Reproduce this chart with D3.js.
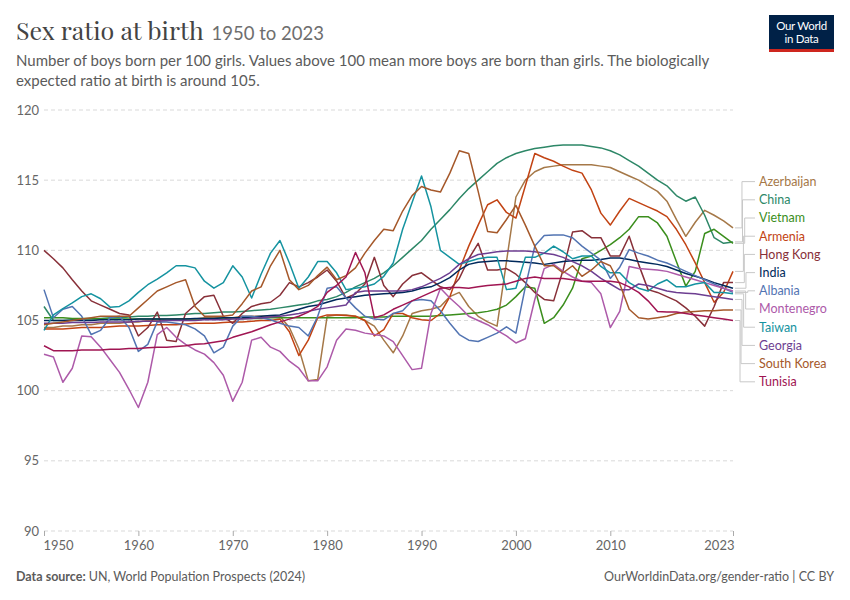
<!DOCTYPE html>
<html>
<head>
<meta charset="utf-8">
<script src="https://cdn.jsdelivr.net/npm/d3@7"></script>
<style>
  body { margin: 0; background: #fff; }
  svg { display: block; font-family: Lato, 'Noto Sans', sans-serif; }
</style>
</head>
<body>
<div id="chart"></div>
<script>
// Sex ratio at birth, boys per 100 girls, one value per year 1950..2023
const firstYear = 1950
const lastYear = 2023
const xTicks = [1950, 1960, 1970, 1980, 1990, 2000, 2010, 2023]
const yTicks = [90, 95, 100, 105, 110, 115, 120]

const countries = ['Azerbaijan', 'China', 'Vietnam', 'Armenia', 'Hong Kong', 'India', 'Albania', 'Montenegro', 'Taiwan', 'Georgia', 'South Korea', 'Tunisia']

const azerbaijan = [
  104.5, 104.5, 104.6, 104.6, 104.7, 104.7, 104.8, 104.8, 104.8, 104.9,
  104.9, 105.0, 105.0, 105.0, 105.1, 105.1, 105.1, 105.2, 105.2, 105.2,
  105.2, 105.3, 105.3, 105.3, 105.3, 105.3, 104.5, 103.0, 100.7, 100.8,
  105.3, 105.4, 105.4, 105.3, 105.0, 104.6, 103.6, 102.7, 103.9, 105.5,
  105.7, 105.8, 106.0, 106.7, 107.0, 106.0, 105.3, 104.9, 104.6, 109.2,
  113.8, 115.0, 115.6, 115.9, 116.0, 116.1, 116.1, 116.1, 116.1, 116.0,
  115.9, 115.6, 115.3, 115.0, 114.6, 114.2, 113.5, 112.2, 111.0, 112.0,
  112.85, 112.5, 112.1, 111.6]
const china = [
  106.0, 105.0, 105.0, 105.05, 105.1, 105.1, 105.15, 105.2, 105.2, 105.25,
  105.3, 105.3, 105.35, 105.35, 105.4, 105.45, 105.5, 105.5, 105.55, 105.6,
  105.6, 105.65, 105.7, 105.75, 105.8, 105.9, 106.0, 106.1, 106.2, 106.4,
  106.5, 106.7, 107.0, 107.4, 107.7, 108.0, 108.4, 108.9, 109.5, 110.1,
  110.7, 111.5, 112.2, 112.9, 113.7, 114.4, 115.0, 115.6, 116.2, 116.6,
  116.9, 117.1, 117.25, 117.35, 117.45, 117.5, 117.5, 117.5, 117.4, 117.3,
  117.1, 116.8, 116.4, 116.0, 115.5, 115.0, 114.6, 113.9, 113.5, 113.8,
  112.5, 110.9, 110.5, 110.6]
const vietnam = [
  105.2, 105.2, 105.2, 105.15, 105.15, 105.15, 105.1, 105.1, 105.1, 105.1,
  105.1, 105.1, 105.1, 105.1, 105.1, 105.1, 105.1, 105.1, 105.1, 105.1,
  105.15, 105.15, 105.15, 105.15, 105.2, 105.2, 105.2, 105.2, 105.2, 105.2,
  105.2, 105.2, 105.2, 105.2, 105.25, 105.25, 105.25, 105.3, 105.3, 105.3,
  105.3, 105.3, 105.35, 105.4, 105.45, 105.5, 105.55, 105.65, 105.8, 106.1,
  106.7, 107.4, 107.3, 104.8, 105.2, 106.1, 107.3, 109.4, 109.6, 110.0,
  110.4, 110.9, 111.5, 112.4, 112.4, 111.95, 111.0, 109.2, 107.45, 108.5,
  111.2, 111.5, 111.0, 110.5]
const armenia = [
  104.4, 104.4, 104.4, 104.45, 104.5, 104.5, 104.5, 104.55, 104.6, 104.6,
  104.6, 104.65, 104.7, 104.7, 104.7, 104.75, 104.8, 104.8, 104.8, 104.85,
  104.9, 104.9, 104.95, 105.0, 105.0, 105.1, 104.2, 102.5, 103.6, 105.2,
  105.4, 105.4, 105.35, 105.3, 105.0, 103.9, 104.35, 105.5, 105.5, 105.2,
  105.05, 105.0, 105.5, 106.7, 108.6, 110.3, 111.8, 113.25, 113.6, 112.7,
  112.3, 114.6, 116.9, 116.6, 116.35, 116.0, 115.7, 115.5, 114.3, 112.65,
  111.8, 112.8, 113.7, 113.4, 113.1, 112.8, 112.4, 111.5, 110.4, 109.1,
  107.7, 106.3, 107.0, 108.5]
const hongKong = [
  110.0, 109.4, 108.75, 107.9, 107.1, 106.4, 106.1, 105.8, 105.5, 105.4,
  103.9, 104.5, 105.6, 103.6, 103.5, 105.5, 106.1, 106.7, 106.8, 105.3,
  104.8, 105.5, 106.0, 106.2, 106.3, 106.8, 107.7, 107.4, 107.7, 108.1,
  108.6, 107.8, 106.6, 106.9, 107.6, 109.5, 107.5, 106.7, 107.6, 108.2,
  108.4, 107.9, 107.4, 107.2, 108.0, 109.4, 110.5, 108.6, 108.6, 108.7,
  108.3, 107.7, 107.0, 106.5, 106.4, 108.6, 111.3, 111.4, 110.9, 110.9,
  109.6, 109.6, 111.0, 109.0, 107.2, 107.0, 106.7, 106.4, 105.9, 105.3,
  104.6, 106.0, 107.7, 107.7]
const india = [
  105.0, 105.0, 105.0, 105.0, 105.0, 105.0, 105.05, 105.05, 105.05, 105.05,
  105.1, 105.1, 105.1, 105.1, 105.1, 105.1, 105.15, 105.15, 105.15, 105.2,
  105.2, 105.2, 105.25, 105.3, 105.35, 105.4, 105.6, 105.8, 106.0, 106.1,
  106.3, 106.5, 106.6, 106.7, 106.8, 106.85, 106.9, 106.95, 107.0, 107.1,
  107.3, 107.4, 107.7, 108.05, 108.6, 109.0, 109.15, 109.2, 109.25, 109.25,
  109.2, 109.15, 109.1, 109.0, 109.1, 109.2, 109.25, 109.3, 109.3, 109.35,
  109.45, 109.45, 109.35, 109.2, 109.1, 109.0, 108.85, 108.6, 108.35, 108.15,
  107.95, 107.7, 107.5, 107.3]
const albania = [
  107.2, 105.2, 105.8, 106.0, 105.3, 104.0, 104.3, 105.2, 105.3, 104.5,
  102.8, 103.3, 104.9, 104.9, 104.8, 104.7, 104.4, 103.9, 102.7, 103.1,
  104.6, 105.3, 105.3, 105.2, 105.05, 104.8, 104.6, 104.5, 103.9, 105.3,
  107.3, 107.4, 106.6, 105.9, 105.3, 105.1, 105.05, 105.5, 105.7, 106.4,
  106.5, 106.4, 105.7, 104.8, 104.0, 103.6, 103.5, 103.8, 104.1, 104.55,
  104.1, 107.4, 110.3, 111.05, 111.1, 111.1, 110.9, 110.3, 109.8, 109.3,
  108.0, 108.8, 110.05, 109.8, 109.6, 109.3, 109.1, 108.8, 108.5, 108.2,
  107.9, 107.6, 107.3, 107.0]
const montenegro = [
  102.6, 102.4, 100.6, 101.6, 103.9, 103.85, 103.1, 102.2, 101.3, 100.1,
  98.8, 100.6, 104.0, 104.5, 103.8, 103.3, 102.9, 102.6, 102.0, 101.1,
  99.25, 100.6, 103.6, 103.8, 103.1, 102.8, 102.1, 101.6, 100.7, 100.7,
  101.7, 103.6, 104.4, 104.3, 104.1, 104.0, 103.9, 103.5, 102.5, 101.5,
  101.6, 105.5, 107.3, 106.6, 106.0, 105.3, 105.0, 104.7, 104.3, 103.9,
  103.4, 103.7, 106.5, 108.7, 109.0, 108.5, 108.1, 107.8, 107.7, 106.9,
  104.5, 105.65, 108.85, 108.7, 108.65, 108.6, 108.5, 108.3, 108.1, 107.9,
  107.7, 107.5, 107.3, 107.1]
const taiwan = [
  104.3, 105.4, 105.85, 106.25, 106.7, 106.9, 106.55, 105.95, 106.0, 106.4,
  107.0, 107.55, 107.95, 108.4, 108.9, 108.9, 108.75, 107.8, 107.3, 107.7,
  108.9, 108.1, 106.6, 108.3, 109.8, 110.7, 109.1, 107.3, 108.1, 109.2,
  109.2, 108.4, 107.2, 107.3, 107.4, 107.6, 108.15, 109.1, 111.5, 113.4,
  115.3, 113.1, 110.0, 109.5, 109.0, 109.2, 109.4, 109.5, 109.5, 107.2,
  107.3, 109.5, 109.5, 109.8, 110.3, 109.9, 109.4, 109.6, 109.6, 108.85,
  108.4, 108.4, 107.7, 107.3, 107.1, 107.6, 107.9, 107.4, 107.4, 107.6,
  107.7, 107.0, 107.0, 106.9]
const georgia = [
  104.8, 104.8, 104.8, 104.85, 104.85, 104.85, 104.9, 104.9, 104.9, 104.9,
  104.95, 104.95, 104.95, 105.0, 105.0, 105.0, 105.0, 105.05, 105.05, 105.05,
  105.1, 105.1, 105.15, 105.2, 105.25, 105.3, 105.4, 105.5, 105.65, 105.8,
  105.9, 106.0, 106.1, 107.0, 107.1, 107.1, 107.1, 107.1, 107.1, 107.2,
  107.4, 107.7, 108.0, 108.4, 109.0, 109.4, 109.7, 109.8, 109.9, 109.95,
  109.95, 109.95, 109.9, 109.8, 109.7, 109.5, 109.2, 108.9, 108.5, 108.0,
  107.6, 107.2, 107.2, 107.6, 107.5, 107.3, 107.1, 107.0, 106.95, 106.9,
  106.8, 106.7, 106.6, 106.5]
const southKorea = [
  104.7, 104.8, 104.9, 105.0, 105.1, 105.2, 105.3, 105.3, 105.3, 105.3,
  105.9, 106.5, 107.1, 107.4, 107.7, 107.9, 106.0, 105.3, 105.3, 105.3,
  105.4, 106.2, 107.1, 107.4, 108.9, 110.0, 107.9, 107.2, 107.5, 108.2,
  108.8, 107.9, 108.2, 108.75, 109.8, 110.7, 111.5, 111.4, 112.8, 113.9,
  114.55, 114.3, 114.15, 115.5, 117.1, 116.9, 114.2, 111.35, 111.25, 112.2,
  113.2, 111.8, 110.3, 108.9, 108.9, 108.4, 108.9, 108.15, 108.6, 109.2,
  108.9, 107.6, 105.8, 105.2, 105.1, 105.2, 105.3, 105.5, 105.6, 105.65,
  105.7, 105.7, 105.75, 105.75]
const tunisia = [
  103.2, 102.85, 102.85, 102.85, 102.9, 102.9, 102.9, 102.95, 102.95, 103.0,
  103.0, 103.05, 103.1, 103.1, 103.15, 103.2, 103.3, 103.35, 103.45, 103.55,
  103.8, 104.0, 104.2, 104.45, 104.7, 104.9, 105.1, 105.3, 105.6, 106.0,
  107.0, 107.5, 108.1, 109.85, 108.4, 105.2, 105.4, 105.8, 106.1, 106.4,
  106.7, 107.0, 107.3, 107.35, 107.35, 107.3, 107.4, 107.5, 107.55, 107.6,
  107.8, 108.0, 108.1, 108.0, 108.0, 108.0, 107.9, 107.8, 107.8, 107.8,
  107.8, 107.7, 107.4, 107.0, 106.4, 105.65, 105.6, 105.6, 105.5, 105.4,
  105.3, 105.2, 105.1, 105.0]

const seriesValues = [azerbaijan, china, vietnam, armenia, hongKong, india, albania, montenegro, taiwan, georgia, southKorea, tunisia]
const seriesColors = ['#a57848', '#2d8767', '#3b8e1d', '#c24313', '#883039', '#00295b', '#5274b2', '#ad5aa9', '#1593a0', '#6d3e91', '#a5582a', '#a01552']

const W = 850, H = 600
const margin = { left: 44, right: 117, top: 110, bottom: 69 }

const svg = d3.select('#chart').append('svg').attr('width', W).attr('height', H)

// Header
svg.append('text')
  .attr('x', 16).attr('y', 40)
  .style('font-family', "'Playfair Display', 'DejaVu Serif', serif")
  .style('font-size', '25px')
  .style('fill', '#444')
  .text('Sex ratio at birth')
  .append('tspan')
  .attr('dx', 8)
  .style('font-family', 'Lato, sans-serif')
  .style('font-size', '18.5px')
  .style('fill', '#6e6e6e')
  .text('1950 to 2023')

const subtitle = ['Number of boys born per 100 girls. Values above 100 mean more boys are born than girls. The biologically',
  'expected ratio at birth is around 105.']
svg.append('g').selectAll('text').data(subtitle).join('text')
  .attr('x', 16).attr('y', (d, i) => 66 + i * 19.5)
  .style('font-size', '15px').style('fill', '#5b5b5b')
  .text(d => d)

// OWID logo
const logo = svg.append('g').attr('transform', 'translate(769,15)')
logo.append('rect').attr('width', 65).attr('height', 37).attr('fill', '#002147')
logo.append('rect').attr('y', 34).attr('width', 65).attr('height', 3).attr('fill', '#ce261e')
logo.append('g').selectAll('text').data(['Our World', 'in Data']).join('text')
  .attr('x', 32.5).attr('y', (d, i) => 15 + i * 12.5)
  .attr('text-anchor', 'middle')
  .style('font-size', '11.5px').style('fill', '#fff').style('letter-spacing', '-0.3px')
  .text(d => d)

// Scales
const x = d3.scaleLinear().domain([firstYear, lastYear]).range([margin.left, W - margin.right])
const y = d3.scaleLinear().domain([90, 120]).range([H - margin.bottom, margin.top])

const grid = svg.append('g')
grid.selectAll('line').data(yTicks).join('line')
  .attr('x1', x(firstYear)).attr('x2', x(lastYear))
  .attr('y1', d => y(d)).attr('y2', d => y(d))
  .attr('stroke', '#d9d9d9').attr('stroke-dasharray', '4,3')
grid.selectAll('text').data(yTicks).join('text')
  .attr('x', 39).attr('y', d => y(d)).attr('dy', '0.35em')
  .attr('text-anchor', 'end')
  .style('font-size', '13px').style('fill', '#666')
  .text(d => d)

const xAxis = svg.append('g').attr('transform', `translate(0,${y(90)})`)
  .call(d3.axisBottom(x).tickValues(xTicks).tickFormat(d3.format('d')).tickSize(5).tickPadding(5))
xAxis.select('.domain').remove()
xAxis.selectAll('.tick line').attr('stroke', '#aaa')
xAxis.selectAll('.tick text')
  .style('font-family', 'Lato, sans-serif').style('font-size', '13px').attr('fill', '#666')
  .attr('text-anchor', d => d === firstYear ? 'start' : d === lastYear ? 'end' : 'middle')
  .attr('dx', d => d === firstYear ? -1 : d === lastYear ? 1 : 0)

// Lines
const years = d3.range(firstYear, lastYear + 1)
const line = d3.line().x((d, i) => x(years[i])).y(d => y(d))
svg.append('g').selectAll('path').data(seriesValues).join('path')
  .attr('d', line)
  .attr('fill', 'none')
  .attr('stroke', (d, i) => seriesColors[i])
  .attr('stroke-width', 1.5)
  .attr('stroke-linejoin', 'round')

// Labels with connectors
const endY = seriesValues.map(v => y(v[v.length - 1]))
const step = 18.2
const mid = d3.mean(endY) + 1.5
const labelY = countries.map((c, i) => mid + (i - (countries.length - 1) / 2) * step)
const maxOff = d3.max(labelY, (ly, i) => Math.abs(ly - endY[i]))
const xEnd = x(lastYear)

svg.append('g').selectAll('path').data(countries).join('path')
  .attr('d', (c, i) => {
    const xk = 748 - 8 * Math.abs(labelY[i] - endY[i]) / maxOff
    return `M${xEnd + 2},${endY[i]}H${xk}V${labelY[i]}H${755}`
  })
  .attr('fill', 'none').attr('stroke', '#c8c8c8').attr('stroke-width', 1)

svg.append('g').selectAll('text').data(countries).join('text')
  .attr('x', 759).attr('y', (c, i) => labelY[i]).attr('dy', '0.35em')
  .style('font-size', '12.5px')
  .style('fill', (c, i) => seriesColors[i])
  .text(c => c)

// Footer
const foot = svg.append('text').attr('x', 16).attr('y', 581)
  .style('font-size', '12.5px').style('fill', '#5b5b5b')
foot.append('tspan').style('font-weight', 700).text('Data source: ')
foot.append('tspan').text('UN, World Population Prospects (2024)')

svg.append('text').attr('x', 834).attr('y', 581).attr('text-anchor', 'end')
  .style('font-size', '12.5px').style('fill', '#5b5b5b')
  .text('OurWorldinData.org/gender-ratio | CC BY')
</script>
</body>
</html>
